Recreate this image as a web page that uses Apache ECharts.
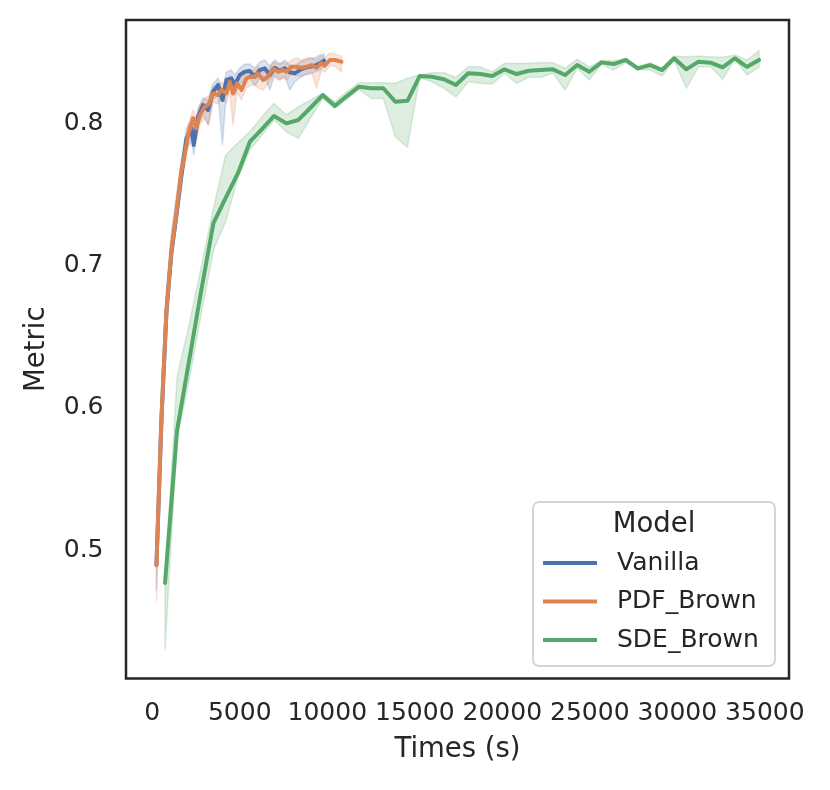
<!DOCTYPE html>
<html>
<head>
<meta charset="utf-8">
<script src="https://cdn.jsdelivr.net/npm/echarts@6/dist/echarts.min.js"></script>
<style>
html,body{margin:0;padding:0;background:#fff;}
#chart{width:830px;height:790px;}
</style>
</head>
<body>
<div id="chart"></div>
<script>
// ---- data ----
const modelNames = ['Vanilla', 'PDF_Brown', 'SDE_Brown'];
const xTickValues = [0, 5000, 10000, 15000, 20000, 25000, 30000, 35000];
const yTickValues = [0.5, 0.6, 0.7, 0.8];

const xVanilla = [240, 526, 811, 1097, 1383, 1669, 1954, 2240, 2371, 2617, 2903, 3189, 3474, 3760, 4011, 4240, 4526, 4714, 5000, 5286, 5571, 5857, 6143, 6429, 6714, 7000, 7286, 7571, 7857, 8143, 8429, 8714, 9000, 9286, 9571, 9817];
const yVanilla = [0.4895, 0.5915, 0.6674, 0.7096, 0.7357, 0.7638, 0.7896, 0.7966, 0.7849, 0.8048, 0.8130, 0.8095, 0.8224, 0.8271, 0.8165, 0.8306, 0.8318, 0.8271, 0.8341, 0.8364, 0.8369, 0.8329, 0.8376, 0.8388, 0.8341, 0.8392, 0.8369, 0.8388, 0.8360, 0.8353, 0.8376, 0.8392, 0.8399, 0.8406, 0.8423, 0.8442];
const loVanilla = [0.4719, 0.5859, 0.6604, 0.7026, 0.7286, 0.7567, 0.7814, 0.7884, 0.7779, 0.7990, 0.8060, 0.7990, 0.8165, 0.8200, 0.7849, 0.8236, 0.8250, 0.8200, 0.8278, 0.8306, 0.8320, 0.8264, 0.8320, 0.8334, 0.8236, 0.8341, 0.8306, 0.8334, 0.8236, 0.8292, 0.8320, 0.8341, 0.8348, 0.8362, 0.8376, 0.8404];
const hiVanilla = [0.4944, 0.6055, 0.6829, 0.7237, 0.7497, 0.7744, 0.7968, 0.8025, 0.7954, 0.8109, 0.8179, 0.8165, 0.8278, 0.8320, 0.8236, 0.8362, 0.8376, 0.8341, 0.8390, 0.8418, 0.8418, 0.8390, 0.8432, 0.8447, 0.8404, 0.8447, 0.8418, 0.8447, 0.8411, 0.8404, 0.8432, 0.8447, 0.8461, 0.8461, 0.8482, 0.8489];

const xPDF = [240, 526, 811, 1097, 1383, 1669, 1857, 2046, 2331, 2526, 2714, 3000, 3229, 3474, 3760, 3954, 4240, 4429, 4617, 4846, 5097, 5383, 5571, 5857, 6046, 6331, 6617, 6903, 7189, 7474, 7669, 7954, 8240, 8526, 8811, 9097, 9383, 9669, 9857, 10143, 10429, 10811];
const yPDF = [0.4895, 0.5938, 0.6688, 0.7110, 0.7378, 0.7673, 0.7779, 0.7919, 0.8037, 0.7966, 0.8060, 0.8118, 0.8137, 0.8212, 0.8200, 0.8236, 0.8212, 0.8294, 0.8212, 0.8283, 0.8236, 0.8318, 0.8329, 0.8329, 0.8353, 0.8306, 0.8329, 0.8388, 0.8364, 0.8376, 0.8364, 0.8399, 0.8399, 0.8392, 0.8399, 0.8411, 0.8392, 0.8423, 0.8406, 0.8447, 0.8447, 0.8435];
const loPDF = [0.4635, 0.5880, 0.6618, 0.7026, 0.7307, 0.7617, 0.7708, 0.7849, 0.7968, 0.7884, 0.7990, 0.8039, 0.7990, 0.8151, 0.8137, 0.8179, 0.8144, 0.8221, 0.7990, 0.8221, 0.8165, 0.8250, 0.8264, 0.8278, 0.8250, 0.8236, 0.8278, 0.8334, 0.8306, 0.8320, 0.8306, 0.8348, 0.8334, 0.8334, 0.8348, 0.8362, 0.8250, 0.8376, 0.8362, 0.8404, 0.8404, 0.8362];
const hiPDF = [0.4930, 0.6020, 0.6759, 0.7181, 0.7462, 0.7743, 0.7849, 0.7990, 0.8095, 0.8039, 0.8130, 0.8179, 0.8193, 0.8264, 0.8250, 0.8292, 0.8271, 0.8341, 0.8271, 0.8334, 0.8306, 0.8376, 0.8376, 0.8376, 0.8404, 0.8362, 0.8376, 0.8432, 0.8418, 0.8425, 0.8418, 0.8447, 0.8461, 0.8447, 0.8461, 0.8461, 0.8447, 0.8475, 0.8461, 0.8496, 0.8489, 0.8475];

const xSDE = [730, 1420, 2120, 2810, 3500, 4190, 4890, 5580, 6270, 6960, 7660, 8350, 9040, 9740, 10430, 11120, 11810, 12510, 13200, 13890, 14580, 15280, 15970, 16660, 17350, 18050, 18740, 19430, 20120, 20820, 21510, 22200, 22890, 23590, 24280, 24970, 25670, 26360, 27050, 27740, 28440, 29130, 29820, 30510, 31210, 31900, 32590, 33280, 33980, 34670];
const ySDE = [0.4769, 0.5845, 0.6342, 0.6833, 0.7302, 0.7476, 0.7649, 0.7872, 0.7961, 0.8053, 0.8001, 0.8025, 0.8111, 0.8200, 0.8123, 0.8193, 0.8259, 0.8248, 0.8248, 0.8153, 0.8160, 0.8334, 0.8329, 0.8311, 0.8271, 0.8353, 0.8348, 0.8334, 0.8381, 0.8348, 0.8371, 0.8376, 0.8381, 0.8341, 0.8411, 0.8364, 0.8430, 0.8418, 0.8447, 0.8388, 0.8411, 0.8376, 0.8459, 0.8381, 0.8435, 0.8428, 0.8395, 0.8459, 0.8399, 0.8447];
const loSDE = [0.4302, 0.5774, 0.6203, 0.6667, 0.7110, 0.7309, 0.7617, 0.7814, 0.7919, 0.8025, 0.7942, 0.7896, 0.8037, 0.8177, 0.8107, 0.8170, 0.8240, 0.8177, 0.8177, 0.7907, 0.7833, 0.8325, 0.8294, 0.8248, 0.8188, 0.8294, 0.8283, 0.8278, 0.8353, 0.8283, 0.8325, 0.8325, 0.8353, 0.8236, 0.8388, 0.8306, 0.8418, 0.8376, 0.8428, 0.8376, 0.8376, 0.8334, 0.8447, 0.8248, 0.8399, 0.8399, 0.8311, 0.8452, 0.8341, 0.8395];
const hiSDE = [0.4790, 0.6220, 0.6594, 0.7000, 0.7406, 0.7778, 0.7863, 0.7942, 0.8048, 0.8142, 0.8060, 0.8118, 0.8165, 0.8212, 0.8153, 0.8224, 0.8287, 0.8287, 0.8287, 0.8283, 0.8318, 0.8341, 0.8357, 0.8357, 0.8325, 0.8399, 0.8399, 0.8364, 0.8423, 0.8423, 0.8423, 0.8428, 0.8428, 0.8388, 0.8452, 0.8399, 0.8442, 0.8442, 0.8452, 0.8399, 0.8428, 0.8388, 0.8475, 0.8470, 0.8475, 0.8470, 0.8466, 0.8482, 0.8447, 0.8512];

// ---- style ----
const FONT = 'DejaVu Sans';
const TEXT = '#262626';
const colors = { Vanilla: [76, 114, 176], PDF_Brown: [221, 132, 82], SDE_Brown: [85, 168, 104] };
const rgb = c => `rgb(${c[0]},${c[1]},${c[2]})`;
const rgba = (c, a) => `rgba(${c[0]},${c[1]},${c[2]},${a})`;

function bandSeries(xs, lo, hi, c) {
  return {
    type: 'custom',
    silent: true,
    z: 1,
    data: xs.map((x, i) => [x, lo[i], hi[i]]),
    encode: { x: 0, y: [1, 2] },
    renderItem: function (params, api) {
      if (params.dataIndex !== 0) return null;
      const pts = [];
      for (let i = 0; i < xs.length; i++) pts.push(api.coord([xs[i], hi[i]]));
      for (let i = xs.length - 1; i >= 0; i--) pts.push(api.coord([xs[i], lo[i]]));
      return {
        type: 'polygon',
        shape: { points: pts },
        style: { fill: rgba(c, 0.2), stroke: rgba(c, 0.2), lineWidth: 1.6, lineJoin: 'round' }
      };
    }
  };
}
function lineSeries(name, xs, ys, c, z) {
  return {
    type: 'line',
    name: name,
    z: z,
    data: xs.map((x, i) => [x, ys[i]]),
    symbol: 'none',
    showSymbol: false,
    lineStyle: { width: 4, color: rgb(c), cap: 'round', join: 'round' },
    itemStyle: { color: rgb(c) },
    emphasis: { disabled: true }
  };
}

const chart = echarts.init(document.getElementById('chart'), null, { renderer: 'canvas' });
chart.setOption({
  animation: false,
  backgroundColor: '#ffffff',
  grid: {
    left: 126, right: 41, top: 20, bottom: 111.5,
    show: true, borderColor: TEXT, borderWidth: 2.5, backgroundColor: 'transparent'
  },
  xAxis: {
    type: 'value',
    min: -1500, max: 36380,
    name: 'Times (s)', nameLocation: 'middle', nameGap: 57,
    nameTextStyle: { fontFamily: FONT, fontSize: 27.5, color: TEXT },
    axisLine: { show: false }, axisTick: { show: false }, splitLine: { show: false },
    axisLabel: {
      customValues: xTickValues,
      formatter: v => String(Math.round(v)),
      fontFamily: FONT, fontSize: 25, color: TEXT, margin: 22
    }
  },
  yAxis: {
    type: 'value',
    min: 0.4097, max: 0.8728,
    name: 'Metric', nameLocation: 'middle', nameGap: 75,
    nameTextStyle: { fontFamily: FONT, fontSize: 27.5, color: TEXT },
    axisLine: { show: false }, axisTick: { show: false }, splitLine: { show: false },
    axisLabel: {
      customValues: yTickValues,
      formatter: v => v.toFixed(1),
      fontFamily: FONT, fontSize: 25, color: TEXT, margin: 22.5
    }
  },
  legend: {
    data: modelNames,
    orient: 'vertical',
    left: 543, top: 548,
    padding: 0,
    z: 60,
    itemWidth: 54, itemHeight: 4, itemGap: 8.5,
    icon: 'rect',
    selectedMode: false,
    textStyle: { fontFamily: FONT, fontSize: 25, color: TEXT, lineHeight: 30, padding: [0, 0, 0, 15] }
  },
  graphic: [
    {
      type: 'rect', z: 50, silent: true,
      shape: { x: 533, y: 502, width: 242, height: 164, r: 6 },
      style: { fill: 'rgba(255,255,255,0.85)', stroke: '#d6d6d6', lineWidth: 2 }
    },
    {
      type: 'text', z: 51, silent: true,
      x: 654, y: 525,
      style: { text: 'Model', fontFamily: FONT, fontSize: 27.5, fill: TEXT, align: 'center', verticalAlign: 'middle' }
    }
  ],
  series: [
    bandSeries(xVanilla, loVanilla, hiVanilla, colors.Vanilla),
    bandSeries(xPDF, loPDF, hiPDF, colors.PDF_Brown),
    bandSeries(xSDE, loSDE, hiSDE, colors.SDE_Brown),
    lineSeries('Vanilla', xVanilla, yVanilla, colors.Vanilla, 3),
    lineSeries('PDF_Brown', xPDF, yPDF, colors.PDF_Brown, 4),
    lineSeries('SDE_Brown', xSDE, ySDE, colors.SDE_Brown, 5)
  ]
});
</script>
</body>
</html>
